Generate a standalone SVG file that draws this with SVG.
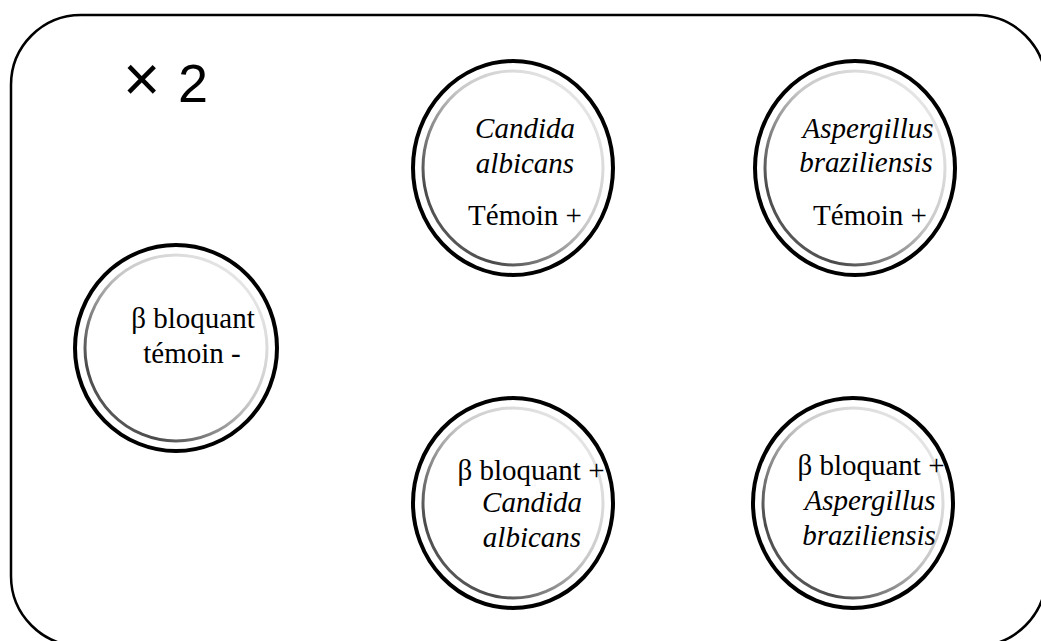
<svg xmlns="http://www.w3.org/2000/svg" width="1041" height="641" viewBox="0 0 1041 641">
<defs>
<linearGradient id="ringGrad" x1="1" y1="0" x2="0" y2="1">
<stop offset="0" stop-color="#f2f2f2"/>
<stop offset="0.45" stop-color="#c8c8c8"/>
<stop offset="0.8" stop-color="#4a4a4a"/>
<stop offset="1" stop-color="#777"/>
</linearGradient>
<style>
.frame{fill:#fff;stroke:#000;stroke-width:2.5}
.outer{fill:#fff;stroke:#000;stroke-width:4}
.inner{fill:none;stroke:url(#ringGrad);stroke-width:3}
.t{font-family:"Liberation Serif","Times New Roman",serif;font-size:29px;fill:#000;text-anchor:middle}
.i{font-style:italic}
.mult{font-family:"Liberation Sans",Arial,sans-serif;fill:#000}
</style>
</defs>
<rect width="1041" height="641" fill="#fff"/>
<rect id="frame" class="frame" x="11" y="15" width="1035" height="631" rx="70" ry="70"/>
<g id="label-x2">
<text class="mult" x="123" y="101" font-size="64" font-weight="300">×</text>
<text class="mult" x="178" y="102" font-size="54">2</text>
</g>

<g id="node-beta-temoin">
<ellipse class="outer" cx="176" cy="348" rx="101" ry="103"/>
<ellipse class="inner" cx="176" cy="348" rx="91" ry="93"/>
<text class="t" x="193" y="328">β bloquant</text>
<text class="t" x="192" y="363">témoin -</text>
</g>

<g id="node-candida-temoin">
<ellipse class="outer" cx="513" cy="168" rx="100" ry="107"/>
<ellipse class="inner" cx="513" cy="168" rx="90" ry="97"/>
<text class="t i" x="525" y="138">Candida</text>
<text class="t i" x="525" y="173">albicans</text>
<text class="t" x="525" y="225">Témoin +</text>
</g>

<g id="node-aspergillus-temoin">
<ellipse class="outer" cx="855" cy="168" rx="100" ry="107"/>
<ellipse class="inner" cx="855" cy="168" rx="90" ry="97"/>
<text class="t i" x="868" y="138">Aspergillus</text>
<text class="t i" x="866" y="172">braziliensis</text>
<text class="t" x="870" y="225">Témoin +</text>
</g>

<g id="node-beta-candida">
<ellipse class="outer" cx="513" cy="503" rx="100" ry="105"/>
<ellipse class="inner" cx="513" cy="503" rx="90" ry="95"/>
<text class="t" x="531" y="480">β bloquant +</text>
<text class="t i" x="532" y="512">Candida</text>
<text class="t i" x="532" y="547">albicans</text>
</g>

<g id="node-beta-aspergillus">
<ellipse class="outer" cx="853" cy="503" rx="100" ry="105"/>
<ellipse class="inner" cx="853" cy="503" rx="90" ry="95"/>
<text class="t" x="871" y="475">β bloquant +</text>
<text class="t i" x="870" y="510">Aspergillus</text>
<text class="t i" x="869" y="545">braziliensis</text>
</g>

<g id="connectors"></g>
</svg>
